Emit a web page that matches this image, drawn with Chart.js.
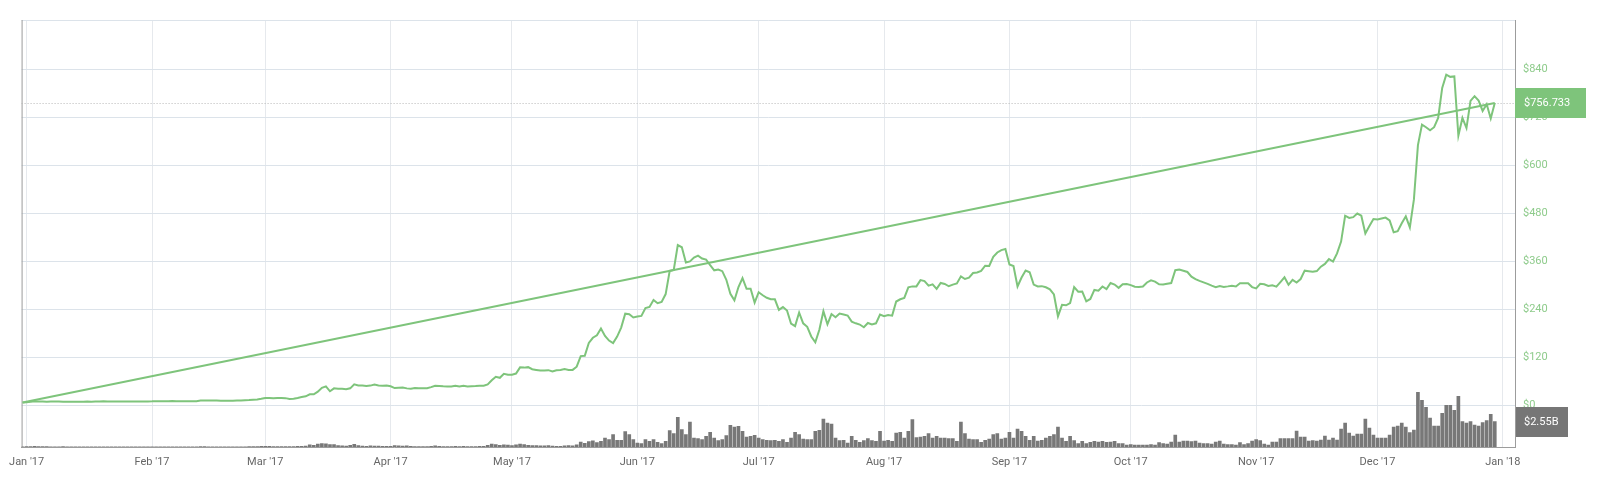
<!DOCTYPE html>
<html>
<head>
<meta charset="utf-8">
<script src="https://cdn.jsdelivr.net/npm/chart.js@4.4.1/dist/chart.umd.min.js"></script>
<style>
html,body{margin:0;padding:0;background:#ffffff;}
#wrap{width:1608px;height:481px;position:relative;}
</style>
</head>
<body>
<div id="wrap"><canvas id="c" width="1608" height="481"></canvas></div>
<script>
// ---- Data (daily, 2017-01-01 .. 2017-12-31) ----
const startDate = '2017-01-01';

const priceJan = [8.17,8.38,9.73,11.25,10.25,10.25,9.88,10.20,10.30,10.50,9.90,9.80,9.70,9.80,9.85,9.60,10.20,10.00,10.40,10.70,10.90,10.70,10.80,10.50,10.60,10.60,10.60,10.60,10.50,10.60,10.70];
const priceFeb = [10.80,10.90,11.40,11.30,11.30,11.30,11.50,11.30,10.90,11.40,11.40,11.30,11.20,13.10,12.90,12.90,12.80,12.80,12.60,12.30,12.60,12.60,13.20,13.10,13.50,14.10,15.00,15.70];
const priceMar = [17.20,19.00,19.50,18.80,19.10,19.50,18.90,16.90,17.30,19.10,21.50,23.50,28.50,28.60,35.20,44.60,48.40,36.10,43.30,42.20,42.50,41.20,43.40,53.30,50.50,50.50,49.30,50.20,52.90,50.70,49.70];
const priceApr = [50.60,48.60,44.10,44.90,45.30,43.30,42.40,44.10,43.60,43.40,43.70,46.40,50.00,49.40,48.60,48.30,47.90,49.90,47.90,49.90,48.20,48.60,49.10,50.00,50.00,53.10,63.50,72.40,69.80,79.80];
const priceMay = [77.50,77.40,80.40,95.80,95.20,96.40,91.20,89.40,87.80,88.00,88.90,85.50,88.80,89.10,91.50,89.30,89.50,97.60,124.00,124.80,157.10,169.80,176.20,193.20,174.60,162.90,156.60,172.90,195.30,230.10,228.60];
const priceJun = [220.60,222.90,224.40,244.30,247.00,264.30,256.30,259.40,279.10,337.00,339.20,401.40,396.10,358.10,360.70,370.20,375.30,368.00,365.30,351.20,338.40,340.40,336.30,314.90,279.90,263.30,296.60,318.80,292.20,292.60];
const priceJul = [257.70,283.70,276.10,269.90,266.40,265.90,239.40,246.50,238.00,205.50,198.90,232.90,205.80,197.20,173.10,158.40,189.80,236.10,203.40,229.10,221.10,230.30,227.90,225.40,210.20,206.00,202.90,196.20,206.90,203.10,206.00];
const priceAug = [227.90,223.60,226.90,225.20,260.40,266.10,269.40,296.00,298.30,298.30,313.90,311.60,300.10,303.30,292.00,306.80,304.40,298.60,302.60,305.60,323.40,316.80,320.10,331.60,333.10,336.90,349.90,349.50,372.00,383.00,389.00];
const priceSep = [391.70,352.90,349.00,298.20,320.50,337.90,333.60,302.90,298.10,298.90,296.00,291.00,278.00,223.50,252.20,250.90,256.70,296.50,285.00,285.40,260.80,266.90,289.50,287.60,298.00,291.50,306.60,302.80,294.60,303.50];
const priceOct = [304.30,301.50,297.50,296.90,297.90,308.10,313.30,310.30,303.30,302.90,304.80,306.60,338.90,340.50,337.50,334.30,322.70,316.30,312.10,308.40,304.70,300.10,296.50,299.10,297.00,298.30,299.90,298.20,306.20,306.40,305.90];
const priceNov = [296.50,293.40,304.70,303.50,299.30,300.90,297.70,309.10,320.90,302.30,314.70,307.90,316.70,337.60,336.40,334.90,336.60,347.60,354.40,366.70,360.40,380.70,410.20,474.90,469.30,471.30,480.40,474.90,430.50,449.10];
const priceDec = [466.50,465.30,467.90,470.30,463.30,433.60,436.40,456.00,473.50,445.70,515.10,651.40,702.80,696.20,688.50,696.20,719.40,794.60,827.60,822.10,823.10,675.00,719.40,694.10,762.20,773.80,762.80,737.00,753.60,718.00,756.733];

const volJan = [0.02,0.03,0.04,0.06,0.05,0.03,0.03,0.02,0.02,0.02,0.03,0.02,0.02,0.01,0.01,0.01,0.02,0.02,0.01,0.01,0.01,0.01,0.01,0.01,0.01,0.01,0.01,0.01,0.01,0.01,0.01];
const volFeb = [0.01,0.01,0.02,0.01,0.01,0.01,0.01,0.01,0.02,0.01,0.01,0.01,0.01,0.04,0.03,0.02,0.02,0.01,0.01,0.01,0.01,0.01,0.02,0.02,0.02,0.03,0.04,0.05];
const volMar = [0.06,0.08,0.06,0.04,0.03,0.04,0.03,0.05,0.03,0.06,0.08,0.10,0.22,0.18,0.30,0.35,0.32,0.25,0.24,0.15,0.12,0.10,0.18,0.28,0.14,0.10,0.08,0.12,0.10,0.10,0.08];
const volApr = [0.08,0.06,0.15,0.12,0.10,0.12,0.06,0.05,0.05,0.05,0.05,0.08,0.12,0.06,0.05,0.05,0.05,0.06,0.05,0.06,0.05,0.05,0.05,0.06,0.08,0.18,0.30,0.25,0.18,0.22];
const volMay = [0.20,0.15,0.22,0.30,0.25,0.18,0.15,0.14,0.12,0.12,0.14,0.10,0.08,0.08,0.12,0.14,0.12,0.22,0.50,0.38,0.55,0.62,0.45,0.57,0.90,0.74,1.24,0.67,0.67,1.55,1.24];
const volJun = [0.74,0.40,0.34,0.74,0.57,0.74,0.47,0.34,0.57,1.65,1.34,3.00,1.75,1.24,2.50,0.90,0.84,0.74,1.07,1.48,0.90,0.64,0.74,1.14,2.18,2.00,2.08,1.58,1.00,1.07];
const volJul = [1.18,0.90,0.74,0.67,0.64,0.67,0.57,0.74,0.47,0.90,1.48,1.24,0.80,0.74,0.74,1.58,1.68,2.82,2.42,2.32,0.90,0.64,0.67,0.40,1.07,0.67,0.47,0.64,0.84,0.64,0.57];
const volAug = [1.58,0.60,0.67,0.57,1.41,1.48,0.90,1.58,2.75,0.94,1.00,1.07,1.34,0.90,1.07,0.90,0.90,0.84,0.84,0.57,2.50,1.34,0.80,0.74,0.74,0.47,0.67,0.80,1.24,1.34,0.80];
const volSep = [0.90,1.48,0.90,1.81,1.58,1.07,0.67,1.07,0.60,0.67,0.90,1.07,1.24,2.00,0.90,0.57,1.07,0.64,0.34,0.57,0.34,0.47,0.57,0.50,0.57,0.47,0.50,0.57,0.34,0.34];
const volOct = [0.20,0.25,0.20,0.20,0.20,0.20,0.25,0.20,0.45,0.35,0.30,0.50,1.20,0.50,0.60,0.60,0.55,0.60,0.40,0.35,0.35,0.30,0.50,0.60,0.30,0.25,0.25,0.20,0.45,0.25,0.35];
const volNov = [0.60,0.75,0.65,0.30,0.20,0.50,0.50,0.85,0.85,0.85,0.85,1.60,1.00,1.00,0.60,0.65,0.60,0.70,1.10,0.70,0.90,0.70,1.80,2.40,1.40,1.10,1.30,1.30,2.80,1.90];
const volDec = [1.20,0.90,0.90,0.90,1.20,2.00,2.10,2.40,2.00,1.45,1.70,5.50,4.70,4.00,2.90,2.10,2.10,3.40,4.20,4.20,3.70,5.10,2.55,2.40,2.55,2.20,2.10,2.45,2.65,3.30,2.55];

const monthLabels = ["Jan '17","Feb '17","Mar '17","Apr '17","May '17","Jun '17","Jul '17","Aug '17","Sep '17","Oct '17","Nov '17","Dec '17","Jan '18"];
const monthTickDays = [1,32,60,91,121,152,182,213,244,274,305,335,366];
const priceTicks = [0,120,240,360,480,600,720,840];

// ---- Build library structures ----
const prices = [].concat(priceJan,priceFeb,priceMar,priceApr,priceMay,priceJun,priceJul,priceAug,priceSep,priceOct,priceNov,priceDec);
const volumes = [].concat(volJan,volFeb,volMar,volApr,volMay,volJun,volJul,volAug,volSep,volOct,volNov,volDec);
const priceData = prices.map((p,i)=>({x:i,y:p}));
const volData = volumes.map((v,i)=>({x:i,y:v}));
const lastIdx = prices.length-1;
const lastPrice = prices[lastIdx];
const lastVol = volumes[lastIdx];
const trendData = [{x:0,y:prices[0]},{x:lastIdx,y:lastPrice}];

const GREEN = '#7ec47b';
const FONT = 'Roboto, "Noto Sans", sans-serif';
Chart.defaults.font.family = FONT;

const overlay = {
  id:'overlay',
  beforeDatasetsDraw(chart){
    const {ctx, chartArea:a, scales} = chart;
    ctx.save();
    ctx.lineWidth = 1;
    ctx.strokeStyle = '#dce3ea';
    ctx.beginPath(); ctx.moveTo(a.left, a.top+0.5); ctx.lineTo(a.right, a.top+0.5); ctx.stroke();
    ctx.strokeStyle = '#9c9c9c';
    ctx.beginPath(); ctx.moveTo(a.left+0.5, a.top); ctx.lineTo(a.left+0.5, a.bottom); ctx.stroke();
    const yy = Math.round(scales.y.getPixelForValue(lastPrice))+0.5;
    ctx.setLineDash([1,2]);
    ctx.strokeStyle = '#b8b8b8';
    ctx.beginPath(); ctx.moveTo(a.left, yy); ctx.lineTo(a.right, yy); ctx.stroke();
    ctx.restore();
  },
  afterDraw(chart){
    const {ctx, chartArea:a, scales} = chart;
    ctx.save();
    ctx.font = '11px ' + FONT;
    ctx.textBaseline = 'middle';
    ctx.textAlign = 'left';
    const py = scales.y.getPixelForValue(lastPrice);
    ctx.fillStyle = GREEN;
    ctx.fillRect(a.right, Math.round(py-15), 71, 30);
    ctx.fillStyle = '#ffffff';
    ctx.fillText('$' + lastPrice.toFixed(3), a.right+9, py+0.5);
    const vy = scales.v.getPixelForValue(lastVol);
    ctx.fillStyle = '#767676';
    ctx.fillRect(a.right+1, Math.round(vy-15), 52, 30);
    ctx.fillStyle = '#ffffff';
    ctx.fillText('$' + lastVol.toFixed(2) + 'B', a.right+9, vy+0.5);
    ctx.restore();
  }
};

new Chart(document.getElementById('c'), {
  data: {
    datasets: [
      {type:'line', label:'Price', data: priceData, xAxisID:'x', yAxisID:'y', borderColor: GREEN, borderWidth: 2, pointRadius: 0, tension: 0, order: 1},
      {type:'line', label:'Trend', data: trendData, xAxisID:'x', yAxisID:'y', borderColor: GREEN, borderWidth: 2, pointRadius: 0, tension: 0, order: 2},
      {type:'bar', label:'Volume', data: volData, xAxisID:'x', yAxisID:'v', backgroundColor: '#787878', barThickness: 3, order: 3}
    ]
  },
  options: {
    responsive: false,
    animation: false,
    events: [],
    layout: {padding: {left: 20, top: 20, right: 0, bottom: 0}},
    plugins: {legend: {display: false}, tooltip: {enabled: false}},
    scales: {
      x: {
        type: 'linear', position: 'bottom', min: -0.25, max: 369, offset: false,
        afterBuildTicks: ax => { ax.ticks = monthTickDays.map(v => ({value: v})); },
        afterFit: ax => { ax.height = 34; },
        ticks: {autoSkip: false, maxRotation: 0, padding: 9, color: '#666666', font: {size: 11},
          callback: (v, i) => monthLabels[i]},
        grid: {color: '#e6e9ed', drawTicks: false, offset: false},
        border: {display: true, color: '#9c9c9c'}
      },
      y: {
        type: 'linear', position: 'right', min: -103.25, max: 964.25,
        afterBuildTicks: ax => { ax.ticks = priceTicks.map(v => ({value: v})); },
        afterFit: ax => { ax.width = 93; },
        ticks: {padding: 8, color: '#8ecb8b', font: {size: 11}, callback: v => '$' + v},
        grid: {color: '#dce3ea', drawTicks: false},
        border: {display: true, color: '#9c9c9c'}
      },
      v: {type: 'linear', display: false, min: 0, max: 43}
    }
  },
  plugins: [overlay]
});
</script>
</body>
</html>
